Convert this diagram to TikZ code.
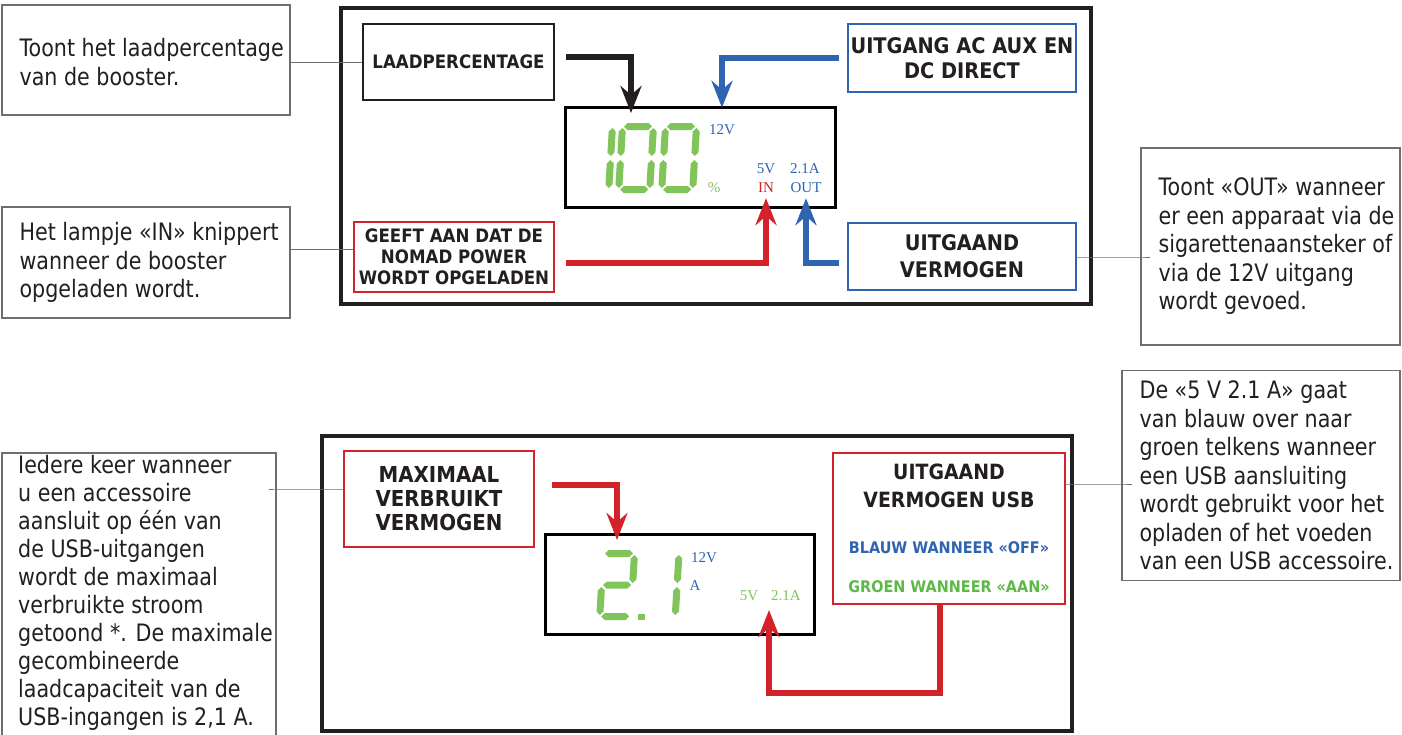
\documentclass[tikz,border=0pt]{standalone}
\usepackage{fontspec}
\setmainfont{DejaVu Sans}
\newfontfamily\notefont{DejaVu Sans}[FakeStretch=0.86]
\newfontfamily\labfont{DejaVu Sans}[FakeStretch=0.9]
\newfontfamily\lcdfont{Liberation Serif}
\usetikzlibrary{arrows.meta}
\definecolor{ink}{HTML}{231F20}
\definecolor{bblue}{HTML}{2F64B0}
\definecolor{rred}{HTML}{D2232A}
\definecolor{lcdgreen}{HTML}{80C45A}
\definecolor{tgreen}{HTML}{5DB947}
\definecolor{gline}{HTML}{6D6E70}
\newcommand\hseg[3]{\fill (#1,#3) -- ({#1+3.5},{#3-3.5}) -- ({#2-3.5},{#3-3.5}) -- (#2,#3) -- ({#2-3.5},{#3+3.5}) -- ({#1+3.5},{#3+3.5}) -- cycle;}
\newcommand\vseg[3]{\fill (#1,#2) -- ({#1+3.5},{#2+3.5}) -- ({#1+3.5},{#3-3.5}) -- (#1,#3) -- ({#1-3.5},{#3-3.5}) -- ({#1-3.5},{#2+3.5}) -- cycle;}
\newcommand\segA{\hseg{5}{33}{-66.5}}
\newcommand\segB{\vseg{34.5}{-65}{-37}}
\newcommand\segC{\vseg{34.5}{-33}{-5}}
\newcommand\segD{\hseg{5}{33}{-3.5}}
\newcommand\segE{\vseg{3.5}{-33}{-5}}
\newcommand\segF{\vseg{3.5}{-65}{-37}}
\newcommand\segG{\hseg{5}{33}{-35}}
\newcommand\lcddigit[3]{\begin{scope}[shift={(#1,#2)},xslant=0.06,lcdgreen]#3\end{scope}}
\newcommand\fNote{\notefont\fontsize{24pt}{28.5pt}\selectfont}
\begin{document}
\begin{tikzpicture}[x=1pt,y=-1pt,
  panel/.style={draw=ink,line width=4pt},
  dispbox/.style={draw=black,line width=3pt,minimum width=270pt,minimum height=100pt,inner sep=0pt},
  notebox/.style={draw=gline,line width=1.2pt,inner sep=0pt},
  notetext/.style={font=\fNote,align=left,inner sep=0pt,text=ink},
  labbox/.style={line width=2pt,align=center,inner sep=0pt,text=ink},
  lcdtxt/.style={font=\lcdfont\fontsize{15pt}{18pt}\selectfont,inner sep=0pt},
  leader/.style={draw=gline,line width=1pt},
  arr/.style={line width=6pt,-{Stealth[length=27pt,width=21pt,inset=9pt]}}]
\useasboundingbox (0,0) rectangle (1402,734);
\clip (0,0) rectangle (1402,734);
\fill[white] (0,0) rectangle (1402,734);

% ---------- top panel ----------
\draw[panel] (341,8) rectangle (1091,304);
\node[dispbox] (disp1) at (700,157) {};

\node[labbox,draw=ink,minimum width=191pt,minimum height=76pt,
  font=\labfont\bfseries\fontsize{18.5pt}{21pt}\selectfont] (laad) at (458.5,62) {LAADPERCENTAGE};
\node[labbox,draw=bblue,minimum width=228pt,minimum height=68pt,
  font=\labfont\bfseries\fontsize{21.5pt}{25pt}\selectfont] (uitgang) at (962,58) {UITGANG AC AUX EN\\DC DIRECT};
\node[labbox,draw=rred,minimum width=200pt,minimum height=70pt,
  font=\labfont\bfseries\fontsize{18.5pt}{21pt}\selectfont] (geeft) at (454,257) {GEEFT AAN DAT DE\\NOMAD POWER\\WORDT OPGELADEN};
\node[labbox,draw=bblue,minimum width=228pt,minimum height=67pt,
  font=\labfont\bfseries\fontsize{21.5pt}{27pt}\selectfont] (uitgaand) at (962,256.5) {UITGAAND\\VERMOGEN};

% display 1 contents
\lcddigit{574}{193}{\segB\segC}
\lcddigit{615}{193}{\segA\segB\segC\segD\segE\segF}
\lcddigit{658}{193}{\segA\segB\segC\segD\segE\segF}
\node[lcdtxt,text=bblue] (v12a) at (722,130) {12V};
\node[lcdtxt,text=lcdgreen] (pct) at (714,188) {\%};
\node[lcdtxt,text=bblue] (v5a) at (766,169) {5V};
\node[lcdtxt,text=bblue] (a21a) at (805,169) {2.1A};
\node[lcdtxt,text=rred] (in) at (766,188) {IN};
\node[lcdtxt,text=bblue] (out) at (806,188) {OUT};
\coordinate (pctIn) at (631,113);

% arrows top
\draw[arr,ink] ([xshift=11pt,yshift=5pt]laad.east) -| (pctIn);
\draw[arr,bblue] ([xshift=-8pt]uitgang.west) -| ([yshift=17pt]v12a.north);
\draw[arr,rred] ([xshift=11pt,yshift=-6pt]geeft.east) -| ([yshift=-5pt]in.south);
\draw[arr,bblue] ([xshift=-8pt,yshift=-6.5pt]uitgaand.west) -| ([yshift=-5pt]out.south);

% notes top
\node[notebox,minimum width=288pt,minimum height=110pt] (n1) at (146,60) {};
\node[notetext,anchor=west] at ([xshift=18pt,yshift=-2pt]n1.west) {Toont het laadpercentage\\van de booster.};
\node[notebox,minimum width=288pt,minimum height=111pt] (n2) at (146,262.5) {};
\node[notetext,anchor=west] at ([xshift=18pt]n2.west) {Het lampje «IN» knippert\\wanneer de booster\\opgeladen wordt.};
\node[notebox,minimum width=259pt,minimum height=197pt] (n3) at (1270.5,246.5) {};
\node[notetext,anchor=west] at ([xshift=18pt]n3.west) {Toont «OUT» wanneer\\er een apparaat via de\\sigarettenaansteker of\\via de 12V uitgang\\wordt gevoed.};

\draw[leader] (laad.west) -- (laad.west -| n1.east);
\path ([yshift=8pt]geeft.west) coordinate (g1);
\draw[leader] (g1) -- (g1 -| n2.east);
\path ([yshift=-0.5pt]uitgaand.east) coordinate (g3);
\draw[leader] (g3) -- (g3 -| n3.west) -- ++(10,0);

% ---------- bottom panel ----------
\draw[panel] (322,436) rectangle (1072,731);
\node[dispbox,minimum width=269pt] (disp2) at (679.5,584) {};

\node[labbox,draw=rred,minimum width=190pt,minimum height=96pt,
  font=\labfont\bfseries\fontsize{22pt}{24pt}\selectfont] (maxi) at (439,499) {MAXIMAAL\\VERBRUIKT\\VERMOGEN};
\node[labbox,draw=rred,minimum width=232pt,minimum height=151pt] (usb) at (949,528.5) {};
\node[labbox,font=\labfont\bfseries\fontsize{21pt}{28pt}\selectfont] (usbt) at (949,486) {UITGAAND\\VERMOGEN USB};
\node[labbox,text=bblue,font=\labfont\bfseries\fontsize{16pt}{19pt}\selectfont] (blauw) at (949,548) {BLAUW WANNEER «OFF»};
\node[labbox,text=tgreen,font=\labfont\bfseries\fontsize{16pt}{19pt}\selectfont] (groen) at (949,587) {GROEN WANNEER «AAN»};

% display 2 contents
\lcddigit{596}{620}{\segA\segB\segG\segE\segD}
\fill[lcdgreen] (638,614) rectangle (645,620);
\lcddigit{640.5}{620}{\segB\segC}
\node[lcdtxt,text=bblue] (v12b) at (704,558) {12V};
\node[lcdtxt,text=bblue] (amp) at (695,586) {A};
\node[lcdtxt,text=lcdgreen] (v5b) at (749,596) {5V};
\node[lcdtxt,text=lcdgreen] (a21b) at (786,596) {2.1A};
\coordinate (ampIn) at (617,540);
\coordinate (usbIn) at (769,610);

\draw[arr,rred] ([xshift=17pt,yshift=14pt]maxi.east) -| (ampIn);
\draw[arr,rred] ([xshift=-9pt]usb.south) -- ++(0,88) -| (usbIn);

% notes bottom
\node[notebox,minimum width=274pt,minimum height=300pt] (n4) at (139,603) {};
\node[notetext,anchor=north west,font=\notefont\fontsize{24pt}{28pt}\selectfont] at (18,455) {Iedere keer wanneer\\u een accessoire\\aansluit op één van\\de USB-uitgangen\\wordt de maximaal\\verbruikte stroom\\getoond *. De maximale\\gecombineerde\\laadcapaciteit van de\\USB-ingangen is 2,1 A.};
\node[notebox,minimum width=278pt,minimum height=210pt] (n5) at (1261,475.5) {};
\node[notetext,anchor=west] at ([xshift=18pt]n5.west) {De «5 V 2.1 A» gaat\\van blauw over naar\\groen telkens wanneer\\een USB aansluiting\\wordt gebruikt voor het\\opladen of het voeden\\van een USB accessoire.};

\path ([yshift=10pt]maxi.west) coordinate (g4);
\draw[leader] (g4) -- (g4 -| n4.east) -- ++(-8,0);
\path ([yshift=44.5pt]usb.east) coordinate (g5);
\draw[leader] (g5) -- (g5 -| n5.west) -- ++(11,0);
\end{tikzpicture}
\end{document}
